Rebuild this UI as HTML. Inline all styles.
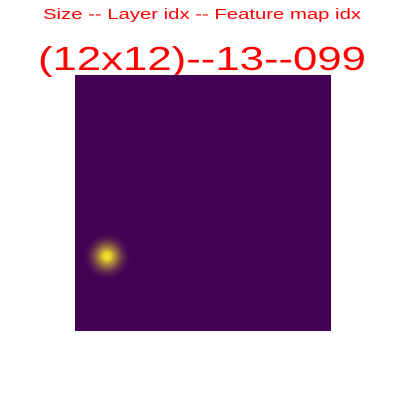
<!DOCTYPE html>
<html><head><meta charset="utf-8"><style>
body{margin:0;background:#fff;width:406px;height:406px;overflow:hidden}
svg{display:block}
</style></head><body>
<svg width="406" height="406">
<defs id="defs"></defs>
<text x="202" y="19" text-anchor="middle" font-family="Liberation Sans, sans-serif" font-size="15" fill="#ff0000" textLength="318" lengthAdjust="spacingAndGlyphs">Size -- Layer idx -- Feature map idx</text>
<text x="202" y="70" text-anchor="middle" font-family="Liberation Sans, sans-serif" font-size="33" fill="#ff0000" textLength="328" lengthAdjust="spacingAndGlyphs">(12x12)--13--099</text>
<g id="heat"></g>
</svg>
<script>
const rows = 12;
const cols = 12;
const hotCells = [[8, 1, 1.0]];
const x0 = 75, y0 = 75, size = 256;
const cw = size / cols, ch = size / rows;
const xPos = c => x0 + c * cw;
const yPos = r => y0 + r * ch;
const ns = 'http://www.w3.org/2000/svg';
const g = document.getElementById('heat');
const defs = document.getElementById('defs');
const bg = document.createElementNS(ns, 'rect');


bg.setAttribute('x', x0); bg.setAttribute('y', y0);
bg.setAttribute('width', size); bg.setAttribute('height', size);
bg.setAttribute('fill', '#440154');
g.appendChild(bg);
hotCells.forEach((h, i) => {
  const [r, c, v] = h;
  const grad = document.createElementNS(ns, 'radialGradient');
  grad.setAttribute('id', 'gr' + i);
  [[0, '#fde725', 1], [0.15, '#f0dc2a', 0.95], [0.45, '#b8a438', 0.6], [0.75, '#7a5a48', 0.25], [1, '#440154', 0]].forEach(s => {
    const st = document.createElementNS(ns, 'stop');
    st.setAttribute('offset', s[0]);
    st.setAttribute('stop-color', s[1]);
    st.setAttribute('stop-opacity', s[2] * v);
    grad.appendChild(st);
  });
  defs.appendChild(grad);
  const circ = document.createElementNS(ns, 'circle');
  
  
  circ.setAttribute('cx', xPos(c) + cw / 2);
  circ.setAttribute('cy', yPos(r) + ch / 2);
  circ.setAttribute('r', cw * 1.15);
  circ.setAttribute('fill', 'url(#gr' + i + ')');
  g.appendChild(circ);
});
</script>
</body></html>
